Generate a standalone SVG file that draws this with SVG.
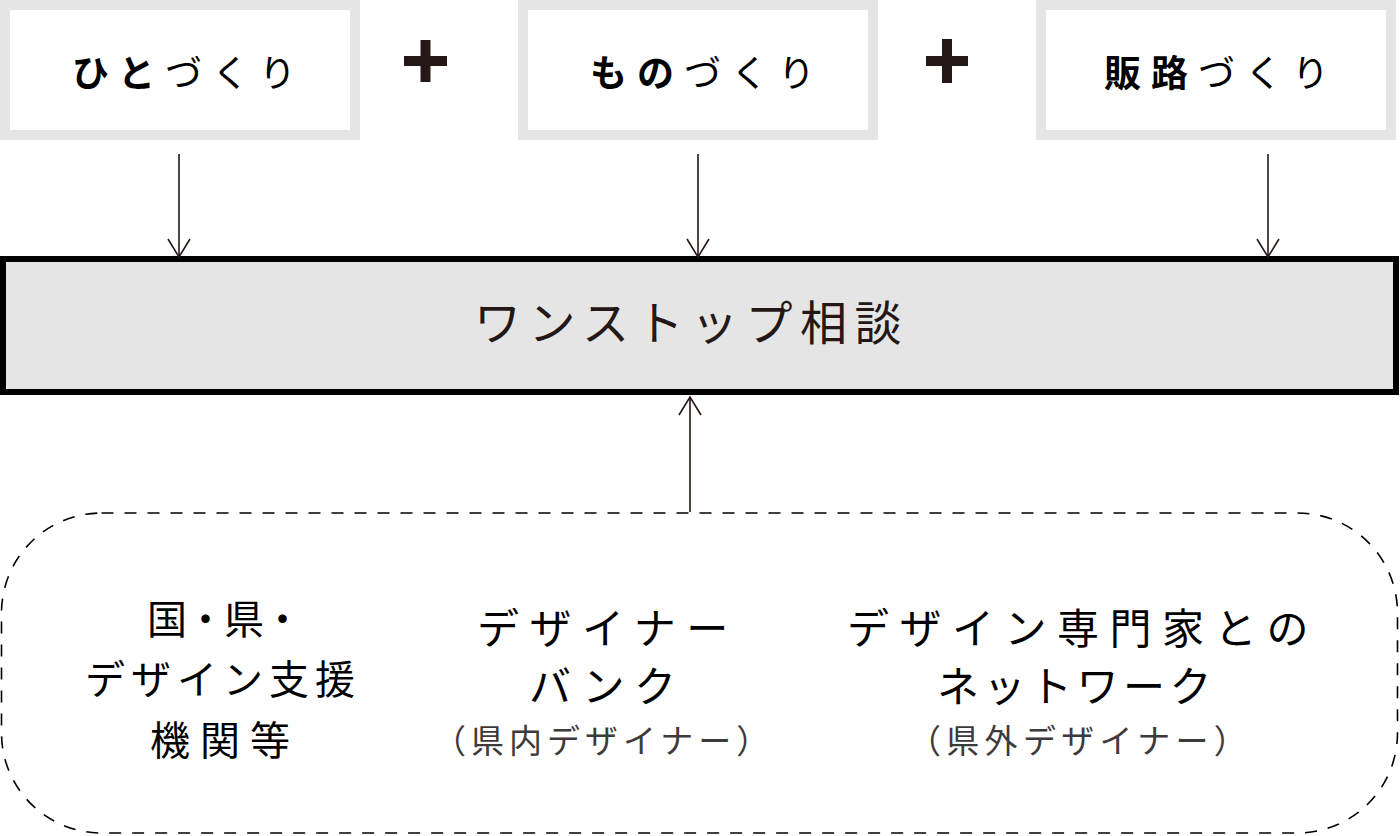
<svg xmlns="http://www.w3.org/2000/svg" width="1400" height="836" viewBox="0 0 1400 836">
<defs>
<style>
text{font-family:"Noto Sans CJK JP","Noto Sans CJK SC",sans-serif;fill:#000}
.top{font-size:37px;letter-spacing:10px}
.b{font-weight:700}
.r{font-weight:400}
.topbox{fill:#fff;stroke:#e5e5e5;stroke-width:10}
.con{stroke:#231815;stroke-width:1.6;fill:none}
.plus{fill:#231815}
.lbl{font-size:42px}
.sub{font-size:33px;fill:#3e3a39}
</style>
<marker id="arr" markerUnits="userSpaceOnUse" viewBox="-20 -13 22 26" markerWidth="22" markerHeight="26" refX="0" refY="0" orient="auto" overflow="visible">
<path d="M-18,-11 L0,0 L-18,11" fill="none" stroke="#231815" stroke-width="1.6"/>
</marker>
</defs>

<g id="node-hitozukuri">
<rect class="topbox" x="5" y="5" width="350" height="130"/>
<text class="top" x="72" y="87"><tspan class="b">ひと</tspan><tspan class="r">づくり</tspan></text>
</g>
<g id="plus-1">
<rect class="plus" x="404" y="56" width="43" height="10"/>
<rect class="plus" x="420.5" y="40" width="10" height="42"/>
</g>
<g id="node-monozukuri">
<rect class="topbox" x="523" y="5" width="350" height="130"/>
<text class="top" x="590" y="87"><tspan class="b">もの</tspan><tspan class="r">づくり</tspan></text>
</g>
<g id="plus-2">
<rect class="plus" x="926" y="56" width="42" height="10"/>
<rect class="plus" x="942" y="39" width="10" height="44"/>
</g>
<g id="node-hanrozukuri">
<rect class="topbox" x="1041" y="5" width="350" height="130"/>
<text class="top" x="1104" y="87"><tspan class="b">販路</tspan><tspan class="r">づくり</tspan></text>
</g>

<g id="node-onestop">
<rect x="3" y="259" width="1393" height="133" fill="#e5e5e5" stroke="#000" stroke-width="6"/>
<text x="474" y="340" style="font-size:47px;letter-spacing:7.5px;fill:#231815">ワンストップ相談</text>
</g>

<g id="node-resources">
<rect x="1.5" y="513" width="1396" height="320" rx="100" ry="100" fill="none" stroke="#000" stroke-width="1.6" stroke-dasharray="12 11"/>
<g id="res-kuni">
<text class="lbl" x="147" y="634" style="font-size:40px;letter-spacing:-1.5px">国・県・</text>
<text class="lbl" x="85" y="694" style="font-size:40px;letter-spacing:6px">デザイン支援</text>
<text class="lbl" x="150" y="755" style="font-size:40px;letter-spacing:10px">機関等</text>
</g>
<g id="res-bank">
<text class="lbl" x="477" y="644" style="letter-spacing:10.5px">デザイナー</text>
<text class="lbl" x="529" y="702" style="letter-spacing:9.5px">バンク</text>
<text class="sub" x="433" y="753" style="letter-spacing:5px">（県内デザイナー）</text>
</g>
<g id="res-network">
<text class="lbl" x="847" y="644" style="letter-spacing:10.5px">デザイン専門家との</text>
<text class="lbl" x="937" y="702" style="letter-spacing:4.5px">ネットワーク</text>
<text class="sub" x="908" y="753" style="letter-spacing:5.3px">（県外デザイナー）</text>
</g>
</g>

<g id="connectors">
<line class="con" x1="179" y1="154" x2="179" y2="257" marker-end="url(#arr)"/>
<line class="con" x1="698" y1="154" x2="698" y2="257" marker-end="url(#arr)"/>
<line class="con" x1="1268" y1="154" x2="1268" y2="257" marker-end="url(#arr)"/>
<line class="con" x1="690" y1="512" x2="690" y2="397" marker-end="url(#arr)"/>
</g>
</svg>
